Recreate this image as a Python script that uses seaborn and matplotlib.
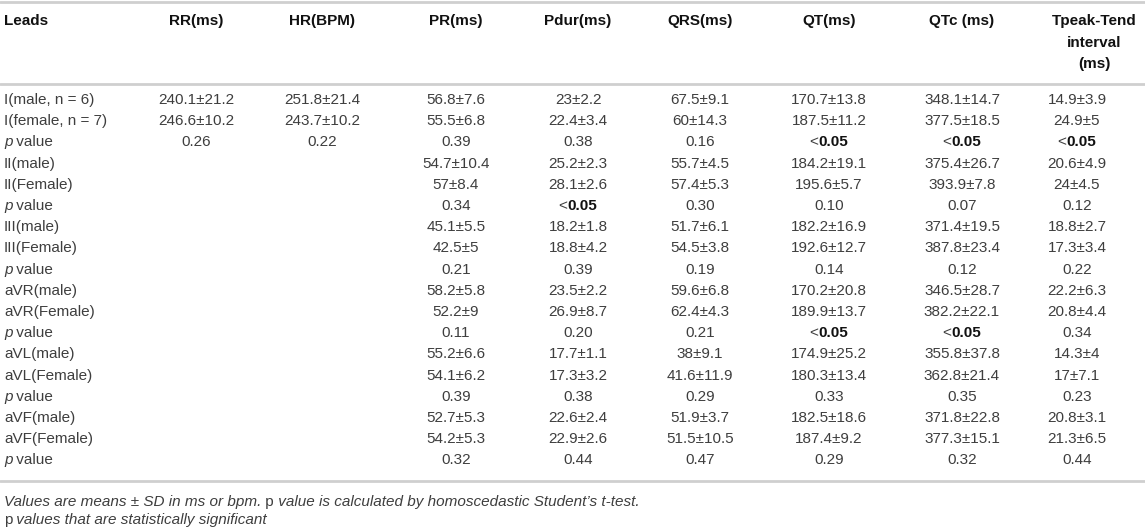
import matplotlib
matplotlib.use("Agg")
import matplotlib.pyplot as plt
import seaborn as sns

# table contents
leads = ["I(male, n = 6)", "I(female, n = 7)", "p value",
         "II(male)", "II(Female)", "p value",
         "III(male)", "III(Female)", "p value",
         "aVR(male)", "aVR(Female)", "p value",
         "aVL(male)", "aVL(Female)", "p value",
         "aVF(male)", "aVF(Female)", "p value"]

headers = ["RR(ms)", "HR(BPM)", "PR(ms)", "Pdur(ms)", "QRS(ms)",
           "QT(ms)", "QTc (ms)", "Tpeak-Tend\ninterval\n(ms)"]

rr = ["240.1±21.2", "246.6±10.2", "0.26"] + [""] * 15
hr = ["251.8±21.4", "243.7±10.2", "0.22"] + [""] * 15
pr = ["56.8±7.6", "55.5±6.8", "0.39", "54.7±10.4", "57±8.4", "0.34",
      "45.1±5.5", "42.5±5", "0.21", "58.2±5.8", "52.2±9", "0.11",
      "55.2±6.6", "54.1±6.2", "0.39", "52.7±5.3", "54.2±5.3", "0.32"]
pdur = ["23±2.2", "22.4±3.4", "0.38", "25.2±2.3", "28.1±2.6", "<0.05",
        "18.2±1.8", "18.8±4.2", "0.39", "23.5±2.2", "26.9±8.7", "0.20",
        "17.7±1.1", "17.3±3.2", "0.38", "22.6±2.4", "22.9±2.6", "0.44"]
qrs = ["67.5±9.1", "60±14.3", "0.16", "55.7±4.5", "57.4±5.3", "0.30",
       "51.7±6.1", "54.5±3.8", "0.19", "59.6±6.8", "62.4±4.3", "0.21",
       "38±9.1", "41.6±11.9", "0.29", "51.9±3.7", "51.5±10.5", "0.47"]
qt = ["170.7±13.8", "187.5±11.2", "<0.05", "184.2±19.1", "195.6±5.7", "0.10",
      "182.2±16.9", "192.6±12.7", "0.14", "170.2±20.8", "189.9±13.7", "<0.05",
      "174.9±25.2", "180.3±13.4", "0.33", "182.5±18.6", "187.4±9.2", "0.29"]
qtc = ["348.1±14.7", "377.5±18.5", "<0.05", "375.4±26.7", "393.9±7.8", "0.07",
       "371.4±19.5", "387.8±23.4", "0.12", "346.5±28.7", "382.2±22.1", "<0.05",
       "355.8±37.8", "362.8±21.4", "0.35", "371.8±22.8", "377.3±15.1", "0.32"]
tpte = ["14.9±3.9", "24.9±5", "<0.05", "20.6±4.9", "24±4.5", "0.12",
        "18.8±2.7", "17.3±3.4", "0.22", "22.2±6.3", "20.8±4.4", "0.34",
        "14.3±4", "17±7.1", "0.23", "20.8±3.1", "21.3±6.5", "0.44"]

columns = [rr, hr, pr, pdur, qrs, qt, qtc, tpte]

# layout (pixels)
col_x = [196, 322, 456, 578, 700, 829, 962, 1077]
head_x = [196, 322, 456, 578, 700, 829, 962, 1094]
row0, row_step = 100, 21.2
head_y = 21
FS = 11
TXT = "#3e3e3e"
DARK = "#111111"
RULE = "#cfcfcf"

sns.set_theme(style="white")
plt.rcParams["font.family"] = ["Liberation Sans", "DejaVu Sans"]

fig = plt.figure(figsize=(11.45, 5.31), dpi=100)
ax = fig.add_axes([0, 0, 1, 1])
ax.set_xlim(0, 1145)
ax.set_ylim(531, 0)
ax.axis("off")
renderer = fig.canvas.get_renderer()


def pieces(x, y, parts, ha="center"):
    """draw several differently styled strings next to each other"""
    objs = []
    for s, kw in parts:
        t = ax.text(0, y, s, fontsize=FS, va="center", ha="left", **kw)
        objs.append(t)
    widths = [t.get_window_extent(renderer).width for t in objs]
    total = sum(widths)
    start = x - total / 2 if ha == "center" else x
    for t, w in zip(objs, widths):
        t.set_x(start)
        start += w


def cell(x, y, s):
    if s.startswith("<"):
        pieces(x, y, [("<", dict(color=TXT)),
                      (s[1:], dict(color=DARK, fontweight="bold"))])
    else:
        ax.text(x, y, s, fontsize=FS, color=TXT, ha="center", va="center")


# rules
last_y = row0 + row_step * (len(leads) - 1)
for yy in [1.5, 84, last_y + 20.5]:
    ax.axhline(yy, color=RULE, lw=2)

# header
ax.text(4, head_y, "Leads", fontsize=FS, fontweight="bold", color=DARK,
        ha="left", va="center")
for hx, h in zip(head_x, headers):
    ax.text(hx, head_y - 7, h, fontsize=FS, fontweight="bold", color=DARK,
            ha="center", va="top", linespacing=1.7)

# body
for i, lead in enumerate(leads):
    y = row0 + i * row_step
    if lead == "p value":
        pieces(4, y, [("p", dict(color=TXT, style="italic")),
                      (" value", dict(color=TXT))], ha="left")
    else:
        ax.text(4, y, lead, fontsize=FS, color=TXT, ha="left", va="center")
    for cx, col in zip(col_x, columns):
        if col[i]:
            cell(cx, y, col[i])

# footnotes
fn1 = last_y + 41.5
fn2 = last_y + 60
pieces(4, fn1, [("Values are means ± SD in ms or bpm.", dict(color=TXT, style="italic")),
                (" p", dict(color=TXT)),
                (" value is calculated by homoscedastic Student’s t-test.",
                 dict(color=TXT, style="italic"))], ha="left")
pieces(4, fn2, [("p", dict(color=TXT)),
                (" values that are statistically significant",
                 dict(color=TXT, style="italic"))], ha="left")

fig.savefig("out.png", dpi=100)
